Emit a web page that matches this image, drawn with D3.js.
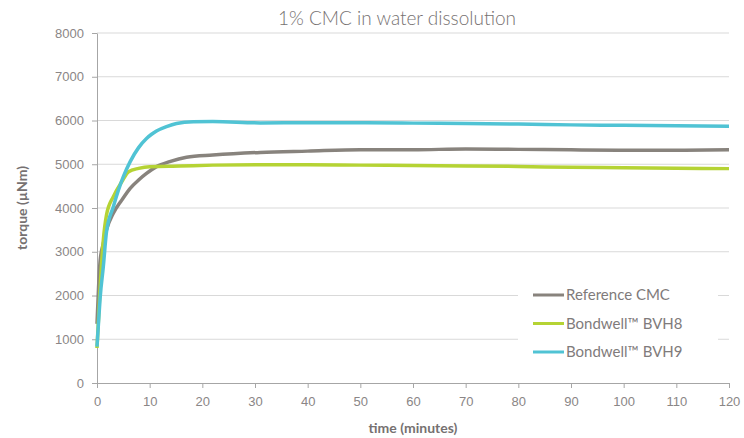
<html>
<head>
<meta charset="utf-8">
<script src="https://d3js.org/d3.v7.min.js"></script>
<style>
  body { margin: 0; background: #fff; }
  svg { font-family: Lato, "Open Sans", sans-serif; }
  .tick text { fill: #8a8686; font-size: 13px; }
  .grid line { stroke: #d9d9d9; }
</style>
</head>
<body>
<div id="chart"></div>
<script>
// data (time in minutes, torque in uNm)
var seriesNames = ["Reference CMC", "Bondwell\u2122 BVH8", "Bondwell\u2122 BVH9"];
var seriesColors = ["#88837d", "#b5d334", "#50c3d4"];

var refTime = [0, 0.3, 0.6, 1.2, 1.8, 3.1, 4.7, 6.3, 7.9, 9.4, 11.3, 13.8, 17, 22, 31, 40, 50, 60, 70, 80, 90, 100, 110, 120];
var refTorque = [1350, 2200, 2800, 3190, 3500, 3880, 4180, 4450, 4640, 4790, 4945, 5060, 5160, 5210, 5270, 5300, 5330, 5330, 5350, 5340, 5330, 5320, 5320, 5330];

var bvh8Time = [0, 0.3, 0.6, 1.2, 1.8, 3.1, 4.7, 6, 7.9, 10, 15.8, 22, 31, 40, 50, 60, 70, 80, 90, 100, 110, 120];
var bvh8Torque = [800, 1500, 2200, 3270, 3840, 4260, 4600, 4830, 4905, 4945, 4960, 4980, 4990, 4990, 4980, 4970, 4960, 4950, 4930, 4920, 4910, 4900];

var bvh9Time = [0, 0.3, 0.6, 1.2, 1.8, 3.1, 5, 6.3, 7.9, 9.4, 10.3, 11.3, 13.2, 15.1, 18.3, 22, 31, 40, 50, 60, 70, 80, 90, 100, 110, 120];
var bvh9Torque = [830, 1400, 1950, 2660, 3450, 4030, 4715, 5060, 5380, 5590, 5680, 5760, 5860, 5930, 5970, 5975, 5945, 5950, 5950, 5940, 5930, 5920, 5900, 5890, 5880, 5870];

var xTicks = [0, 10, 20, 30, 40, 50, 60, 70, 80, 90, 100, 110, 120];
var yTicks = [0, 1000, 2000, 3000, 4000, 5000, 6000, 7000, 8000];

var series = [
  { name: seriesNames[0], color: seriesColors[0], values: refTime.map((t, i) => ({ t: t, v: refTorque[i] })) },
  { name: seriesNames[1], color: seriesColors[1], values: bvh8Time.map((t, i) => ({ t: t, v: bvh8Torque[i] })) },
  { name: seriesNames[2], color: seriesColors[2], values: bvh9Time.map((t, i) => ({ t: t, v: bvh9Torque[i] })) }
];

var width = 744, height = 438;
var plotLeft = 97, plotRight = 729, plotTop = 33, plotBottom = 383;

var svg = d3.select("#chart").append("svg")
  .attr("width", width)
  .attr("height", height);

var x = d3.scaleLinear().domain([0, 120]).range([plotLeft, plotRight]);
var y = d3.scaleLinear().domain([0, 8000]).range([plotBottom, plotTop]);

/* gridlines */
svg.append("g").attr("class", "grid")
  .selectAll("line")
  .data(yTicks.filter(d => d > 0)).enter()
  .append("line")
  .attr("x1", plotLeft).attr("x2", plotRight)
  .attr("y1", d => y(d)).attr("y2", d => y(d));

/* axes */
var yAxis = svg.append("g")
  .attr("transform", `translate(${plotLeft},0)`)
  .call(d3.axisLeft(y).tickValues(yTicks).tickFormat(d3.format("d")).tickSizeInner(5).tickSizeOuter(0).tickPadding(8));
var xAxis = svg.append("g")
  .attr("transform", `translate(0,${plotBottom})`)
  .call(d3.axisBottom(x).tickValues(xTicks).tickSizeInner(5).tickSizeOuter(0).tickPadding(6));
[xAxis, yAxis].forEach(function(a) {
  a.select(".domain").attr("stroke", "#a6a6a6");
  a.selectAll(".tick line").attr("stroke", "#a6a6a6");
});
xAxis.selectAll(".tick text").attr("dy", "0.9em");

/* lines */
var line = d3.line()
  .x(d => x(d.t))
  .y(d => y(d.v))
  .curve(d3.curveMonotoneX);

svg.append("g").selectAll("path")
  .data(series).enter()
  .append("path")
  .attr("d", d => line(d.values))
  .attr("fill", "none")
  .attr("stroke", d => d.color)
  .attr("stroke-width", 3.5)
  .attr("stroke-linejoin", "round");

/* legend */
var legend = svg.append("g");
legend.append("rect")
  .attr("x", 518).attr("y", 280).attr("width", 200).attr("height", 86)
  .attr("fill", "#fff");
var rows = legend.selectAll("g.row")
  .data(series).enter()
  .append("g")
  .attr("transform", (d, i) => `translate(533,${295 + i * 28.5})`);
rows.append("line")
  .attr("x1", 0).attr("x2", 31)
  .attr("stroke", d => d.color)
  .attr("stroke-width", 3);
rows.append("text")
  .attr("x", 33).attr("dy", "0.35em")
  .attr("fill", "#7f7b7b")
  .style("font-size", "15px")
  .text(d => d.name);

/* titles */
svg.append("text")
  .attr("x", 397).attr("y", 25)
  .attr("text-anchor", "middle")
  .attr("fill", "#767171")
  .style("font-size", "19px")
  .style("font-weight", 300)
  .text("1% CMC in water dissolution");

svg.append("text")
  .attr("x", 413).attr("y", 433)
  .attr("text-anchor", "middle")
  .attr("fill", "#767171")
  .style("font-size", "14px")
  .style("font-weight", "bold")
  .text("time (minutes)");

svg.append("text")
  .attr("transform", "translate(27,208) rotate(-90)")
  .attr("text-anchor", "middle")
  .attr("fill", "#767171")
  .style("font-size", "14px")
  .style("font-weight", "bold")
  .text("torque (\u00b5Nm)");
</script>
</body>
</html>
